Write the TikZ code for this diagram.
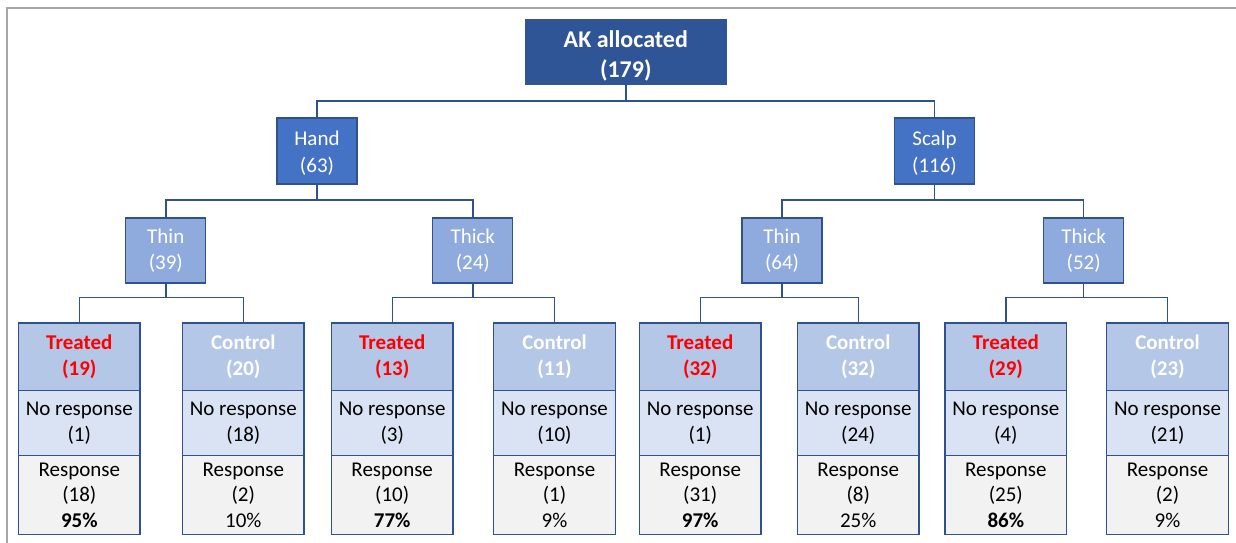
\documentclass[tikz,border=0pt]{standalone}
\usepackage{fontspec}
\setmainfont{Carlito}
\definecolor{rootfill}{HTML}{2F5597}
\definecolor{sitefill}{HTML}{4472C4}
\definecolor{typefill}{HTML}{8FAADC}
\definecolor{headfill}{HTML}{B4C7E7}
\definecolor{nrfill}{HTML}{DAE3F3}
\definecolor{rfill}{HTML}{F2F2F2}
\definecolor{edge}{HTML}{2F528F}
\definecolor{framegray}{HTML}{A6A6A6}
\definecolor{treatred}{HTML}{FF0000}
\tikzset{
  base/.style={rectangle, inner sep=0pt, align=center, font=\fontsize{21}{25.5}\selectfont},
  rootbox/.style={rectangle, inner sep=0pt, fill=rootfill, minimum width=201.5, minimum height=66},
  roottext/.style={align=center, inner sep=0pt, text=white, yshift=-4,
                   font=\fontsize{24}{30}\selectfont\bfseries},
  sitebox/.style={rectangle, inner sep=0pt, fill=sitefill, draw=edge, line width=1.2pt,
                  minimum width=80, minimum height=66},
  sitetext/.style={align=center, inner sep=0pt, text=white, yshift=-2.5,
                   font=\fontsize{21}{27}\selectfont},
  typebox/.style={base, fill=typefill, draw=edge, line width=1.2pt, text=white,
                  minimum width=80, minimum height=65},
  headbox/.style={base, fill=headfill, draw=edge, line width=1.2pt, font=\fontsize{21}{25.5}\selectfont\bfseries,
                  minimum width=121.5, minimum height=67.5},
  treated/.style={text=treatred},
  control/.style={text=white},
  nrbox/.style={base, fill=nrfill, draw=edge, line width=1.2pt, text=black,
                minimum width=121.5, minimum height=65},
  rbox/.style={base, fill=rfill, draw=edge, line width=1.2pt, text=black,
               minimum width=121.5, minimum height=78.8},
  conn/.style={draw=edge, line width=1.4pt},
}
% one outcome column: name, x centre, style, header label, non-responders, responders
\newcommand\outcomecol[6]{%
  \node[headbox,#3] (#1h) at (#2,356.75) {#4};
  \node[nrbox] (#1n) at (#2,423) {No response\\(#5)};
  \node[rbox] (#1r) at (#2,494.9) {Response\\#6};
}
\begin{document}
\begin{tikzpicture}[x=1pt,y=-1pt]
\useasboundingbox (0,0) rectangle (1236,543);

% page frame
\draw[framegray, line width=2.4pt] (7,543) -- (7,8) -- (1236,8);

% root
\node[rootbox, label={[roottext]center:AK allocated\\(179)}] (root) at (625.8,52) {};

% sites
\node[sitebox, label={[sitetext]center:Hand\\(63)}] (hand) at (317,151) {};
\node[sitebox, label={[sitetext]center:Scalp\\(116)}] (scalp) at (934.5,151) {};

% lesion types
\node[typebox] (thinA) at (165.8,250.5) {Thin\\(39)};
\node[typebox] (thickA) at (472.8,250.5) {Thick\\(24)};
\node[typebox] (thinB) at (782,250.5) {Thin\\(64)};
\node[typebox] (thickB) at (1083.7,250.5) {Thick\\(52)};

% arms
\outcomecol{a}{79.3}{treated}{Treated\\(19)}{1}{(18)\\\textbf{95\%}}
\outcomecol{b}{243.3}{control}{Control\\(20)}{18}{(2)\\10\%}
\outcomecol{c}{392.2}{treated}{Treated\\(13)}{3}{(10)\\\textbf{77\%}}
\outcomecol{d}{554.5}{control}{Control\\(11)}{10}{(1)\\9\%}
\outcomecol{e}{700.2}{treated}{Treated\\(32)}{1}{(31)\\\textbf{97\%}}
\outcomecol{f}{858.2}{control}{Control\\(32)}{24}{(8)\\25\%}
\outcomecol{g}{1005.8}{treated}{Treated\\(29)}{4}{(25)\\\textbf{86\%}}
\outcomecol{h}{1167.5}{control}{Control\\(23)}{21}{(2)\\9\%}

% bus levels
\coordinate (busA) at (0,101);
\coordinate (busB) at (0,200);
\coordinate (busC) at (0,297.5);

% connectors
\draw[conn] (root.south) -- (root.south |- busA);
\draw[conn] (hand.north) |- (hand.north |- busA) -| (scalp.north);

\draw[conn] (hand.south) -- (hand.south |- busB);
\draw[conn] (thinA.north) |- (thinA.north |- busB) -| (thickA.north);
\draw[conn] (scalp.south) -- (scalp.south |- busB);
\draw[conn] (thinB.north) |- (thinB.north |- busB) -| (thickB.north);

\draw[conn] (thinA.south) -- (thinA.south |- busC);
\draw[conn] (ah.north) |- (ah.north |- busC) -| (bh.north);
\draw[conn] (thickA.south) -- (thickA.south |- busC);
\draw[conn] (ch.north) |- (ch.north |- busC) -| (dh.north);
\draw[conn] (thinB.south) -- (thinB.south |- busC);
\draw[conn] (eh.north) |- (eh.north |- busC) -| (fh.north);
\draw[conn] (thickB.south) -- (thickB.south |- busC);
\draw[conn] (gh.north) |- (gh.north |- busC) -| (hh.north);
\end{tikzpicture}
\end{document}
